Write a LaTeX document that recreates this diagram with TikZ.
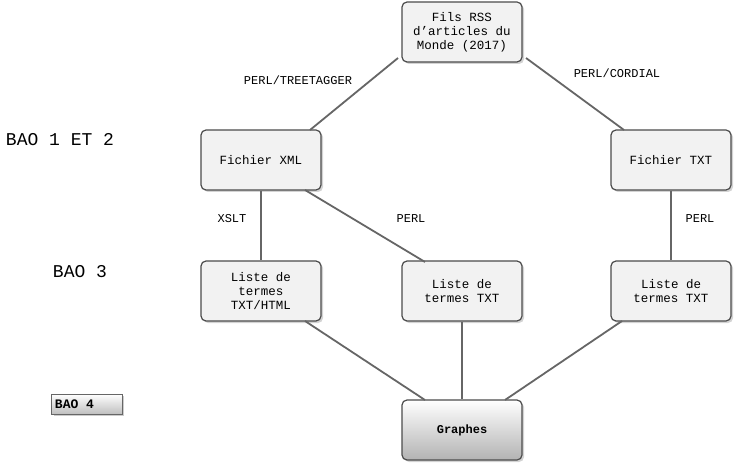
\documentclass[tikz,border=0pt]{standalone}
\usepackage{fontspec}
\setmainfont{Liberation Mono}
\setmonofont{Liberation Mono}
\usetikzlibrary{shadows}
\begin{document}
\begin{tikzpicture}[x=1pt,y=-1pt,font=\fontsize{12.5}{14}\selectfont,
  box/.style={draw=black!70,line width=1.2pt,rounded corners=5pt,fill=black!5,minimum width=120pt,minimum height=60pt,align=center,drop shadow={shadow xshift=2pt,shadow yshift=-2pt,opacity=0.35}},
  conn/.style={draw=black!60,line width=1.8pt},
  lbl/.style={font=\fontsize{12}{13}\selectfont},
  side/.style={font=\fontsize{18}{20}\selectfont}]
\useasboundingbox (0,0) rectangle (734,465);
\node[box] (top) at (462,32) {Fils RSS\\d\char39articles du\\Monde (2017)};
\node[box] (xml) at (261,160) {Fichier XML};
\node[box] (txt) at (671,160) {Fichier TXT};
\node[box] (l1) at (261,291) {Liste de\\termes\\TXT/HTML};
\node[box] (l2) at (462,291) {Liste de\\termes TXT};
\node[box] (l3) at (671,291) {Liste de\\termes TXT};
\node[box,top color=white,bottom color=black!30,font=\bfseries\fontsize{12}{13}\selectfont] (g) at (462,430) {Graphes};
\coordinate (a1) at (398,58); \coordinate (a2) at (310,130);
\coordinate (b1) at (526,58); \coordinate (b2) at (624,130);
\coordinate (c1) at (305,190); \coordinate (c2) at (425,262);
\coordinate (d1) at (305,321); \coordinate (d2) at (425,400);
\coordinate (e1) at (622,321); \coordinate (e2) at (505,400);
\draw[conn] (a1) -- (a2);
\draw[conn] (b1) -- (b2);
\draw[conn] (xml) -- (l1);
\draw[conn] (c1) -- (c2);
\draw[conn] (txt) -- (l3);
\draw[conn] (d1) -- (d2);
\draw[conn] (l2) -- (g);
\draw[conn] (e1) -- (e2);
\node[lbl] (t1) at (298,80) {PERL/TREETAGGER};
\node[lbl] (t2) at (617,73) {PERL/CORDIAL};
\node[lbl] (t3) at (232,219) {XSLT};
\node[lbl] (t4) at (411,219) {PERL};
\node[lbl] (t5) at (700,219) {PERL};
\node[side] (s1) at (60,140) {BAO 1 ET 2};
\node[side] (s2) at (80,272) {BAO 3};
\node[draw=black!60,top color=white,bottom color=black!25,minimum width=70pt,minimum height=20pt,font=\bfseries\fontsize{13}{14}\selectfont,drop shadow={shadow xshift=2pt,shadow yshift=-2pt,opacity=0.4}] (s3) at (87,404) {\rlap{BAO 4}\phantom{BAO 4}\hspace*{25pt}};
\end{tikzpicture}
\end{document}
